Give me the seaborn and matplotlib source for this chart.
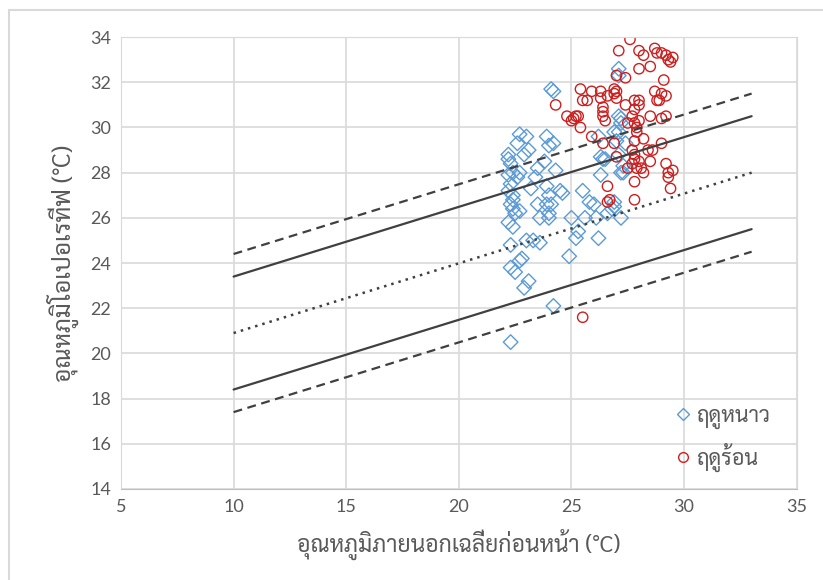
import pandas as pd
import matplotlib
matplotlib.use("Agg")
import matplotlib.pyplot as plt
import seaborn as sns
from matplotlib.lines import Line2D
from matplotlib.patches import Rectangle

# winter (blue diamonds)
winter_x = [22.2, 22.2, 22.3, 22.2, 22.3, 22.2, 22.4, 22.3, 22.4, 22.5, 22.2, 22.4, 22.3, 22.3, 22.5, 22.7, 22.3, 22.4, 22.6, 22.4,
            22.7, 22.6, 22.7, 22.7, 22.8,
            23.0, 23.1, 22.9, 23.2, 23.0, 23.1, 22.9,
            23.5, 23.4, 23.5, 23.6, 23.3, 23.6,
            23.9, 24.0, 23.8, 23.9, 24.0, 23.9, 24.0,
            24.1, 24.2, 24.2, 24.3, 24.1, 24.0, 24.2,
            24.5, 24.6, 24.9, 25.0, 25.2, 25.3, 25.5, 25.6, 25.8,
            26.0, 26.1, 26.2, 26.3, 26.4, 26.3, 26.2, 26.5, 26.6,
            26.9, 26.8, 26.9,
            27.1, 27.1, 27.1, 27.2, 27.2, 27.1, 27.0, 27.1, 27.2, 27.2, 26.9,
            27.3, 27.3, 27.4]
winter_y = [28.8, 28.6, 28.4, 27.9, 27.5, 27.2, 27.0, 26.6, 26.4, 26.2, 25.8, 25.6, 24.8, 23.8, 23.6, 24.1, 20.5, 28.0, 27.8, 26.8,
            29.7, 29.3, 28.0, 26.3, 24.2,
            29.6, 29.0, 28.8, 27.3, 25.0, 23.2, 22.9,
            28.2, 27.8, 26.6, 26.0, 25.0, 24.9,
            29.6, 29.2, 28.5, 27.4, 27.0, 26.6, 26.2,
            31.7, 31.6, 29.3, 28.1, 26.6, 26.0, 22.1,
            27.2, 27.1, 24.3, 26.0, 25.1, 25.4, 27.2, 26.0, 26.7,
            26.6, 26.0, 25.1, 28.7, 28.6, 27.9, 29.6, 28.6, 26.2,
            29.8, 26.4, 26.7,
            32.6, 32.3, 30.5, 30.4, 30.2, 29.8, 29.4, 28.8, 28.0, 26.0, 26.5,
            28.3, 28.0, 29.3]

# summer (red circles)
summer_x = [24.3, 24.8, 25.1, 25.2, 25.0, 25.4, 25.5, 25.4, 25.3, 25.5, 25.7, 25.9, 25.9,
            26.3, 26.3, 26.4, 26.4, 26.4, 26.5, 26.4, 26.6, 26.6, 26.7, 26.6,
            26.9, 26.9, 26.9, 27.0, 27.0, 27.0, 27.0, 27.1, 27.4, 27.4, 27.5, 27.5, 27.6,
            27.8, 27.8, 27.7, 27.8, 27.8, 27.8, 27.7, 27.9, 27.8, 27.8,
            28.0, 28.0, 28.0, 27.9, 28.0, 28.1, 28.0, 28.2, 28.2, 28.2,
            28.5, 28.5, 28.4, 28.5, 28.7, 28.8, 28.7, 28.8, 28.6,
            29.0, 29.0, 28.9, 29.0, 29.0, 29.2, 29.1, 29.2, 29.2, 29.2,
            29.3, 29.3, 29.3, 29.5, 29.4, 29.5, 29.4,
            27.7, 27.9, 27.8, 28.0]
summer_y = [31.0, 30.5, 30.4, 30.5, 30.3, 31.7, 31.2, 30.0, 30.5, 21.6, 31.2, 31.6, 29.6,
            31.6, 31.3, 30.9, 30.7, 30.5, 30.3, 29.3, 31.4, 27.4, 26.8, 26.7,
            31.7, 31.5, 29.3, 32.3, 31.6, 31.3, 28.7, 33.4, 32.2, 31.0, 30.2, 28.2, 33.9,
            31.2, 30.8, 30.5, 30.2, 29.4, 28.8, 28.4, 28.2, 27.6, 26.8,
            32.6, 31.2, 30.3, 29.8, 28.5, 28.2, 33.4, 33.2, 29.5, 28.0,
            32.7, 30.5, 29.0, 28.5, 33.5, 33.3, 31.6, 31.2, 29.0,
            33.3, 31.5, 31.2, 30.4, 29.3, 33.2, 32.1, 31.4, 30.5, 28.4,
            33.0, 28.0, 27.8, 33.1, 32.9, 28.1, 27.3,
            29.0, 30.0, 28.6, 31.0]

# comfort band lines, values read at x = 10 and x = 33
line_x = [10, 33]
upper_80 = [24.4, 31.5]
upper_90 = [23.4, 30.5]
neutral = [20.9, 28.0]
lower_90 = [18.4, 25.5]
lower_80 = [17.4, 24.5]

xticks = [5, 10, 15, 20, 25, 30, 35]
yticks = [14, 16, 18, 20, 22, 24, 26, 28, 30, 32, 34]

season_names = ["ฤดูหนาว", "ฤดูร้อน"]
blue = '#5B9BD5'
red = '#CC1F1F'
text_col = '#595959'

sns.set_style("whitegrid", {'grid.color': '#d9d9d9', 'axes.edgecolor': '#d9d9d9'})
plt.rcParams['font.family'] = ['Lato', 'DejaVu Sans']
thai = ['Sarabun', 'DejaVu Sans']

df = pd.DataFrame({
    'x': winter_x + summer_x,
    'y': winter_y + summer_y,
    'season': [season_names[0]] * len(winter_x) + [season_names[1]] * len(summer_x),
})

fig, ax = plt.subplots(figsize=(8.23, 5.8), dpi=100)
# chart-area border (runs past the right/bottom edges)
fig.patches.append(Rectangle((9 / 823, -0.1), 1.2, 1 - 10 / 580 + 0.1, transform=fig.transFigure,
                             fill=False, edgecolor='#d9d9d9', lw=1.5))

line_col = '#404040'
ax.plot(line_x, upper_80, color=line_col, lw=1.6, ls=(0, (4, 2.5)))
ax.plot(line_x, upper_90, color=line_col, lw=1.6)
ax.plot(line_x, neutral, color=line_col, lw=1.8, ls=(0, (1, 2)))
ax.plot(line_x, lower_90, color=line_col, lw=1.6)
ax.plot(line_x, lower_80, color=line_col, lw=1.6, ls=(0, (4, 2.5)))

sns.scatterplot(data=df, x='x', y='y', hue='season', style='season',
                palette={season_names[0]: blue, season_names[1]: red},
                markers={season_names[0]: 'D', season_names[1]: 'o'},
                s=55, linewidth=1.0, ax=ax, legend=False)
# hollow markers
cols = [blue if s == season_names[0] else red for s in df['season']]
ax.collections[0].set_edgecolors(cols)
ax.collections[0].set_facecolors('none')

ax.set_xlim(5, 35)
ax.set_ylim(14, 34)
ax.set_xticks(xticks)
ax.set_yticks(yticks)
ax.tick_params(colors=text_col, labelsize=13, length=0, pad=7)
for sp in ax.spines.values():
    sp.set_color('#d9d9d9')
ax.spines['bottom'].set_color('#bfbfbf')
ax.grid(True, color='#d9d9d9', lw=1.2)

ax.set_xlabel("อุณหภูมิภายนอกเฉลี่ยก่อนหน้า (°C)", color=text_col, fontsize=16.5,
              labelpad=10, family=thai)
ax.set_ylabel("อุณหภูมิโอเปอเรทีฟ (°C)", color=text_col, fontsize=17.5,
              labelpad=8, family=thai)

handles = [Line2D([], [], marker='D', ls='none', mfc='none', mec=blue, ms=6, mew=1),
           Line2D([], [], marker='o', ls='none', mfc='none', mec=red, ms=7, mew=1)]
leg = ax.legend(handles, season_names, loc='lower right', bbox_to_anchor=(0.99, -0.005),
                frameon=False, handletextpad=0.15, labelspacing=0.65,
                handlelength=1.0, prop={'family': thai, 'size': 15.5})
for t in leg.get_texts():
    t.set_color(text_col)

fig.subplots_adjust(left=0.147, right=0.968, top=0.936, bottom=0.157)
fig.savefig('out.png', dpi=100)
